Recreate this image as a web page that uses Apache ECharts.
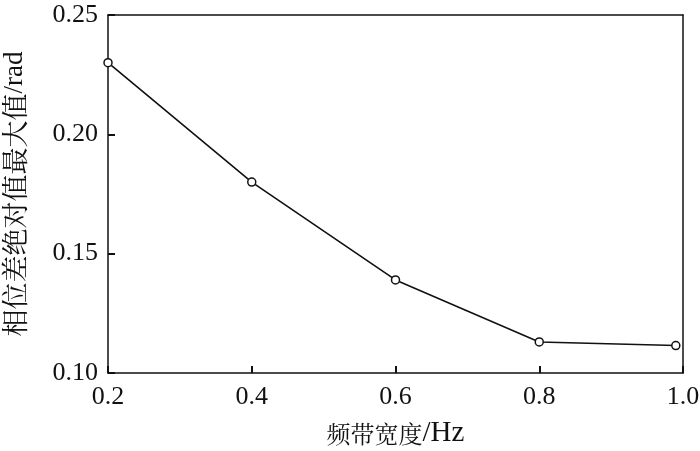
<!DOCTYPE html>
<html><head><meta charset="utf-8">
<script src="https://cdn.jsdelivr.net/npm/echarts@6/dist/echarts.min.js"></script>
<style>html,body{margin:0;padding:0;background:#fff}#c{width:700px;height:451px}</style>
</head><body><div id="c"></div>
<script>
const bandwidth = [0.2, 0.4, 0.6, 0.8, 0.99];
const maxPhaseDiff = [0.230, 0.180, 0.139, 0.113, 0.1115];
const xTitleCJK = '频带宽度', xTitleUnit = '/Hz';
const yTitleCJK = '相位差绝对值最大值', yTitleUnit = '/rad';
const serif = '"Liberation Serif", "Times New Roman", serif';
const cjk = '"Noto Serif CJK SC", "Noto Sans CJK SC", serif';
const lineCol = '#111';
const frameAxis = {show: true, axisLine: {show: true, lineStyle: {color: lineCol, width: 1.5}},
  axisTick: {show: false}, axisLabel: {show: false}, splitLine: {show: false}};
const chart = echarts.init(document.getElementById('c'));
chart.setOption({
  animation: false,
  backgroundColor: '#fff',
  grid: {left: 108, right: 17, top: 15, bottom: 78, outerBoundsMode: 'none', containLabel: false},
  xAxis: [{
    type: 'value', min: 0.2, max: 1.0, interval: 0.2, position: 'bottom',
    name: '{c|' + xTitleCJK + '}{u|' + xTitleUnit + '}', nameLocation: 'middle', nameGap: 46,
    nameTextStyle: {rich: {
      c: {fontFamily: cjk, fontSize: 24, color: lineCol},
      u: {fontFamily: serif, fontSize: 29, color: lineCol}
    }},
    axisLine: {show: true, onZero: false, lineStyle: {color: lineCol, width: 1.5}},
    axisTick: {show: true, inside: true, length: 7, lineStyle: {color: lineCol, width: 2}},
    axisLabel: {fontFamily: serif, fontSize: 26, color: lineCol, margin: 11, formatter: v => v.toFixed(1)},
    splitLine: {show: false}
  }, Object.assign({type: 'value', min: 0.2, max: 1.0, position: 'top'}, frameAxis)],
  yAxis: [{
    type: 'value', min: 0.10, max: 0.25, interval: 0.05, position: 'left',
    name: '{c|' + yTitleCJK + '}{u|' + yTitleUnit + '}', nameLocation: 'middle', nameGap: 80,
    nameTextStyle: {rich: {
      c: {fontFamily: cjk, fontSize: 27, color: lineCol},
      u: {fontFamily: serif, fontSize: 27, color: lineCol}
    }},
    axisLine: {show: true, onZero: false, lineStyle: {color: lineCol, width: 1.5}},
    axisTick: {show: true, inside: true, length: 7, lineStyle: {color: lineCol, width: 2}},
    axisLabel: {fontFamily: serif, fontSize: 26, color: lineCol, margin: 10, formatter: v => v.toFixed(2)},
    splitLine: {show: false}
  }, Object.assign({type: 'value', min: 0.10, max: 0.25, position: 'right'}, frameAxis)],
  series: [{
    type: 'line',
    data: bandwidth.map((x, i) => [x, maxPhaseDiff[i]]),
    symbol: 'circle', symbolSize: 8,
    itemStyle: {color: '#fff', borderColor: lineCol, borderWidth: 1.5},
    lineStyle: {color: lineCol, width: 1.6}
  }]
});
</script></body></html>
